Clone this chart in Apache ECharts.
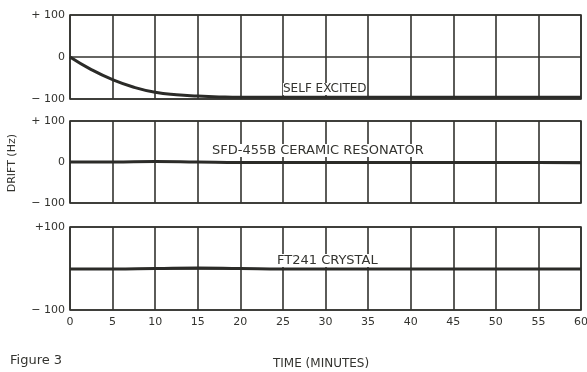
<!DOCTYPE html>
<html>
<head>
<meta charset="utf-8">
<script src="https://cdn.jsdelivr.net/npm/echarts@6/dist/echarts.min.js"></script>
<style>
  html, body { margin: 0; padding: 0; background: #fff; }
  #chart { width: 587px; height: 372px; }
</style>
</head>
<body>
<div id="chart"></div>
<script>
// time axis (minutes)
var timeTicks = [0, 5, 10, 15, 20, 25, 30, 35, 40, 45, 50, 55, 60];
// self excited oscillator
var selfTime = [0, 2.5, 5, 7.5, 10, 12.5, 15, 17.5, 20, 25, 30, 35, 40, 45, 50, 55, 60];
var selfExcited = [0, -30, -54, -72, -84, -90, -93, -95, -96, -96, -96, -96, -96, -96, -96, -96, -96];
// ceramic resonator and crystal, sampled every 5 minutes
var ceramic = [0, 0, 1, 0, -1, -1, -1, -1, -1, -1, -1, -1, -2];
var crystal = [-1, -1, 0, 1, 0, -1, -1, -1, -1, -1, -1, -1, -1];
var seriesNames = ['SELF EXCITED', 'SFD-455B CERAMIC RESONATOR', 'FT241 CRYSTAL'];

var ink = '#33332f';
var font = 'DejaVu Sans';

var chart = echarts.init(document.getElementById('chart'));

function pairs(xs, ys) {
  return xs.map(function (x, i) { return [x, ys[i]]; });
}

var grids = [
  { left: 70, top: 15, width: 511, height: 84 },
  { left: 70, top: 121, width: 511, height: 82 },
  { left: 70, top: 227, width: 511, height: 83 }
].map(function (g) {
  return Object.assign(g, {
    show: true, borderColor: ink, borderWidth: 1.6, backgroundColor: '#fff',
    containLabel: false, outerBoundsMode: 'none'
  });
});

var xAxes = grids.map(function (g, i) {
  return {
    type: 'value', gridIndex: i, min: 0, max: 60, interval: 5,
    axisLine: { show: false },
    axisTick: { show: false },
    splitLine: { show: true, lineStyle: { color: ink, width: 1.6 } },
    axisLabel: {
      show: i === 2, color: ink, fontFamily: font, fontSize: 11, margin: 7
    }
  };
});

var yAxes = grids.map(function (g, i) {
  return {
    type: 'value', gridIndex: i, min: -100, max: 100, interval: 100,
    axisLine: { show: false },
    axisTick: { show: false },
    splitLine: { show: true, lineStyle: { color: ink, width: 1.6 } },
    axisLabel: {
      color: ink, fontFamily: font, fontSize: 11, margin: 5,
      formatter: function (v) {
        if (v > 0) return i === 2 ? '+100' : '+ 100';
        if (v < 0) return '\u2212 100';
        return i === 2 ? '' : '0';
      }
    }
  };
});

var lineStyle = { color: '#2b2b28', width: 3 };

var option = {
  animation: false,
  backgroundColor: '#fff',
  textStyle: { fontFamily: font },
  grid: grids,
  xAxis: xAxes,
  yAxis: yAxes,
  series: [
    {
      name: seriesNames[0], type: 'line', xAxisIndex: 0, yAxisIndex: 0,
      smooth: true, symbol: 'none', lineStyle: lineStyle,
      data: pairs(selfTime, selfExcited)
    },
    {
      name: seriesNames[1], type: 'line', xAxisIndex: 1, yAxisIndex: 1,
      smooth: true, symbol: 'none', lineStyle: lineStyle,
      data: pairs(timeTicks, ceramic)
    },
    {
      name: seriesNames[2], type: 'line', xAxisIndex: 2, yAxisIndex: 2,
      smooth: true, symbol: 'none', lineStyle: lineStyle,
      data: pairs(timeTicks, crystal)
    }
  ],
  graphic: [
    { type: 'text', left: 283, top: 83, z: 10, style: { text: seriesNames[0], font: '12px ' + font, fill: ink, backgroundColor: '#fff', padding: [0, 0, 0, 0] } },
    { type: 'text', left: 212, top: 144, z: 10, style: { text: seriesNames[1], font: '13px ' + font, fill: ink, backgroundColor: '#fff', padding: [0, 0, 0, 0] } },
    { type: 'text', left: 277, top: 254, z: 10, style: { text: seriesNames[2], font: '13px ' + font, fill: ink, backgroundColor: '#fff', padding: [0, 0, 0, 0] } },
    { type: 'text', left: 7, top: 134, rotation: Math.PI / 2, style: { text: 'DRIFT (Hz)', font: '11px ' + font, fill: ink } },
    { type: 'text', left: 10, top: 354, style: { text: 'Figure 3', font: '13px ' + font, fill: ink } },
    { type: 'text', left: 273, top: 358, style: { text: 'TIME (MINUTES)', font: '12px ' + font, fill: ink } }
  ]
};

chart.setOption(option);
</script>
</body>
</html>
